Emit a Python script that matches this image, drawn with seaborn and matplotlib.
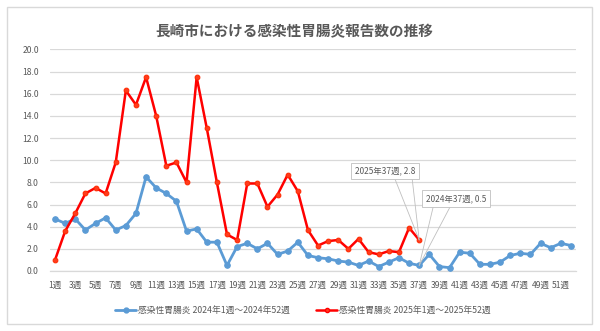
import numpy as np
import pandas as pd
import matplotlib
matplotlib.use("Agg")
import matplotlib.pyplot as plt
from matplotlib.patches import Rectangle
from matplotlib.lines import Line2D
import seaborn as sns

# Weekly infectious gastroenteritis reports per sentinel, Nagasaki City
weeks = list(range(1, 53))
reports_2024 = [4.7, 4.3, 4.7, 3.7, 4.3, 4.8, 3.7, 4.1, 5.2, 8.5,
                7.5, 7.0, 6.3, 3.6, 3.8, 2.6, 2.6, 0.5, 2.2, 2.5,
                2.0, 2.5, 1.5, 1.8, 2.6, 1.4, 1.2, 1.1, 0.9, 0.8,
                0.5, 0.9, 0.4, 0.8, 1.2, 0.7, 0.5, 1.5, 0.4, 0.3,
                1.7, 1.6, 0.6, 0.6, 0.8, 1.4, 1.6, 1.5, 2.5, 2.1,
                2.5, 2.3]
reports_2025 = [1.0, 3.6, 5.2, 7.0, 7.5, 7.0, 9.8, 16.3, 15.0, 17.5,
                14.0, 9.5, 9.8, 8.0, 17.5, 12.9, 8.0, 3.3, 2.8, 7.9,
                7.9, 5.8, 6.9, 8.7, 7.2, 3.7, 2.3, 2.7, 2.8, 2.0,
                2.9, 1.7, 1.5, 1.8, 1.7, 3.9, 2.8]
week_labels = [f"{w}週" for w in weeks]
series_2024 = "感染性胃腸炎 2024年1週～2024年52週"
series_2025 = "感染性胃腸炎 2025年1週～2025年52週"
title = "長崎市における感染性胃腸炎報告数の推移"

df = pd.concat([
    pd.DataFrame({"week": weeks, "value": reports_2024, "series": series_2024}),
    pd.DataFrame({"week": weeks[:len(reports_2025)], "value": reports_2025,
                  "series": series_2025}),
], ignore_index=True)

sns.set_theme(style="white")
plt.rcParams["font.family"] = ["Noto Sans CJK JP", "DejaVu Sans"]

BLUE = "#5B9BD5"
RED = "#FF0000"
GRID = "#D9D9D9"
TEXT = "#595959"

fig = plt.figure(figsize=(6.0, 3.31), dpi=100)
ax = fig.add_axes([0.0833, 0.1813, 0.8767, 0.6692])

sns.lineplot(data=df[df["series"] == series_2024], x="week", y="value",
             color=BLUE, lw=2.0, marker="o", markersize=4.0,
             markeredgecolor=BLUE, ax=ax, legend=False, zorder=3)
sns.lineplot(data=df[df["series"] == series_2025], x="week", y="value",
             color=RED, lw=1.8, marker="o", markersize=3.4,
             markerfacecolor="#FF3B1F", markeredgecolor="#FF2A00",
             ax=ax, legend=False, zorder=4)

ax.set_xlim(0.5, 52.5)
ax.set_ylim(0, 20)
ax.set_yticks(np.arange(0, 20.1, 2))
ax.set_yticklabels([f"{v:.1f}" for v in np.arange(0, 20.1, 2)])
odd = weeks[::2]
ax.set_xticks(odd)
ax.set_xticklabels([week_labels[w - 1] for w in odd])
ax.set_xlabel("")
ax.set_ylabel("")
ax.tick_params(axis="both", length=0, labelsize=6.2, colors=TEXT)
ax.tick_params(axis="y", pad=8)
ax.tick_params(axis="x", pad=7)
ax.grid(axis="y", color=GRID, lw=0.9)
ax.set_axisbelow(True)
for side in ["left", "right", "top"]:
    ax.spines[side].set_visible(False)
ax.spines["bottom"].set_color(GRID)
ax.spines["bottom"].set_linewidth(0.9)

# Callout labels for week 37 of each year
def callout(week, value, text, box_off, wedge_offs):
    for off in wedge_offs:
        ax.annotate("", xy=(week, value), xytext=off, textcoords="offset points",
                    arrowprops=dict(arrowstyle="-", color="#BFBFBF", lw=0.6,
                                    shrinkA=0, shrinkB=0), zorder=5)
    ax.annotate(text, xy=(week, value), xytext=box_off, textcoords="offset points",
                ha="center", va="center", fontsize=6.0, color=TEXT, zorder=6,
                bbox=dict(boxstyle="square,pad=0.45", fc="white", ec="#BFBFBF", lw=0.6))

callout(37, reports_2025[36], f"2025年37週, {reports_2025[36]}",
        (-24.5, 49.7), [(-17.3, 43.5), (-5.0, 43.5)])
callout(37, reports_2024[36], f"2024年37週, {reports_2024[36]}",
        (26.3, 48.2), [(10.1, 42.3), (22.3, 42.3)])

fig.text(0.49, 0.906, title, ha="center", va="center", fontsize=10.5,
         fontweight="bold", color=TEXT)

handles = [
    Line2D([0], [0], color=BLUE, lw=2.0, marker="o", markersize=3.5),
    Line2D([0], [0], color=RED, lw=1.8, marker="o", markersize=3.0,
           markerfacecolor="#FF3B1F"),
]
leg = fig.legend(handles, [series_2024, series_2025], loc="center",
                 bbox_to_anchor=(0.505, 0.063), ncol=2, frameon=False,
                 fontsize=6.3, handlelength=2.4, handletextpad=0.2,
                 columnspacing=3.0)
for t in leg.get_texts():
    t.set_color(TEXT)

fig.patches.append(Rectangle((7 / 600, 7 / 331), 585 / 600, 317 / 331,
                             transform=fig.transFigure, fill=False,
                             edgecolor=GRID, lw=1.0))

fig.savefig("out.png", dpi=100, facecolor="white")
